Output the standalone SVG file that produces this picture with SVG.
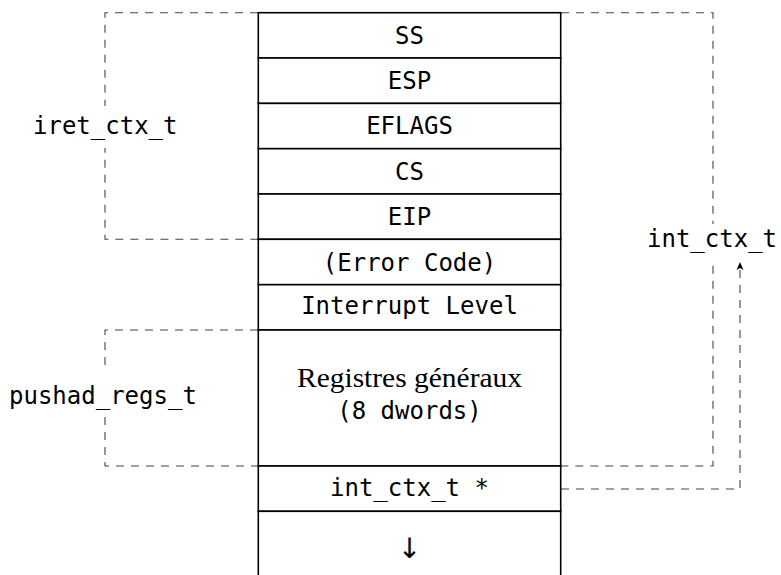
<svg xmlns="http://www.w3.org/2000/svg" width="781" height="575" viewBox="0 0 781 575">
<defs>
<style>
.cell{fill:#fff;stroke:#000;stroke-width:1.6}
.mono{font-family:"DejaVu Sans Mono","Liberation Mono",monospace;font-size:24px;fill:#000}
.serif{font-family:"Liberation Serif","DejaVu Serif",serif;font-size:28px;fill:#000}
.dash{fill:none;stroke:#444;stroke-width:1.1;stroke-dasharray:8 7}
.bg{fill:#fff}
</style>
<marker id="ah" markerWidth="8" markerHeight="8" refX="7" refY="4" orient="auto" markerUnits="userSpaceOnUse" viewBox="0 0 8 8">
<path d="M0,0.5 L8,4 L0,7.5 L2,4 Z" fill="#000"/>
</marker>
</defs>
<rect width="781" height="575" fill="#fff"/>
<g id="connectors">
<path class="dash" d="M258,12.7 H105 V239.3 H258"/>
<path class="dash" d="M258,330 H105 V466 H258"/>
<path class="dash" d="M561,12.7 H713 V466 H561"/>
<path class="dash" d="M561,489 H740 V263" stroke="#000" marker-end="url(#ah)"/>
</g>
<g id="labels">
<rect class="bg" x="25" y="106" width="160" height="42"/>
<text class="mono" x="33" y="133.5">iret_ctx_t</text>
<rect class="bg" x="5" y="372" width="200" height="40"/>
<text class="mono" x="9" y="404">pushad_regs_t</text>
<rect class="bg" x="640" y="224" width="141" height="36"/>
<text class="mono" x="647" y="247">int_ctx_t</text>
</g>
<g id="ss"><rect class="cell" x="258.3" y="12.7" width="302.4" height="45.3"/><text class="mono" x="409.5" y="43.5" text-anchor="middle">SS</text></g>
<g id="esp"><rect class="cell" x="258.3" y="58" width="302.4" height="45.4"/><text class="mono" x="409.5" y="89" text-anchor="middle">ESP</text></g>
<g id="eflags"><rect class="cell" x="258.3" y="103.4" width="302.4" height="45.3"/><text class="mono" x="409.5" y="134.3" text-anchor="middle">EFLAGS</text></g>
<g id="cs"><rect class="cell" x="258.3" y="148.7" width="302.4" height="45.3"/><text class="mono" x="409.5" y="179.6" text-anchor="middle">CS</text></g>
<g id="eip"><rect class="cell" x="258.3" y="194" width="302.4" height="45.3"/><text class="mono" x="409.5" y="224.9" text-anchor="middle">EIP</text></g>
<g id="errcode"><rect class="cell" x="258.3" y="239.3" width="302.4" height="45.4"/><text class="mono" x="409.5" y="271" text-anchor="middle">(Error Code)</text></g>
<g id="intlevel"><rect class="cell" x="258.3" y="284.7" width="302.4" height="45.3"/><text class="mono" x="409.5" y="314" text-anchor="middle">Interrupt Level</text></g>
<g id="regs"><rect class="cell" x="258.3" y="330" width="302.4" height="136"/><text class="serif" x="409.5" y="387" text-anchor="middle" textLength="225" lengthAdjust="spacingAndGlyphs">Registres généraux</text><text class="mono" x="409.5" y="419" text-anchor="middle">(8 dwords)</text></g>
<g id="ctxptr"><rect class="cell" x="258.3" y="466" width="302.4" height="45.3"/><text class="mono" x="409.5" y="496" text-anchor="middle">int_ctx_t *</text></g>
<g id="next"><rect class="cell" x="258.3" y="511.3" width="302.4" height="80"/><text x="409.5" y="558" text-anchor="middle" style="font-family:'DejaVu Sans',sans-serif;font-size:28px;fill:#000">↓</text></g>
</svg>
